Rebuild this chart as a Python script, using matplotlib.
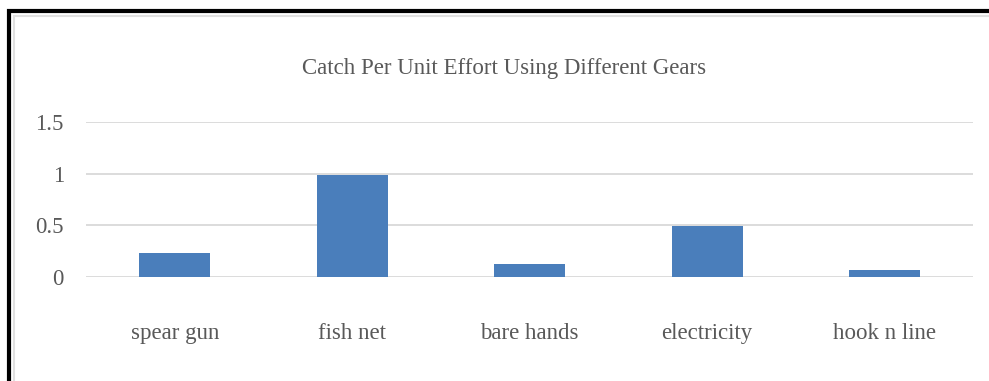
import matplotlib.pyplot as plt
from matplotlib.patches import Rectangle

categories = ["spear gun", "fish net", "bare hands", "electricity", "hook n line"]
cpue = [0.235, 0.99, 0.13, 0.49, 0.07]
yticks = [0, 0.5, 1, 1.5]
ytick_labels = ["0", "0.5", "1", "1.5"]

plt.rcParams["font.family"] = ["Liberation Serif", "DejaVu Serif"]
TXT = "#595959"

fig = plt.figure(figsize=(9.89, 3.81), dpi=100)
ax = fig.add_axes([0.087, 0.273, 0.897, 0.407])

x = range(len(categories))
ax.bar(x, cpue, width=0.4, color="#4a7ebb", zorder=3)
ax.set_xlim(-0.5, len(categories) - 0.5)
ax.set_ylim(0, 1.5)
ax.set_yticks(yticks, ytick_labels)
ax.set_xticks(list(x), categories)
ax.tick_params(length=0, colors=TXT, labelsize=16.5)
ax.tick_params(axis="x", pad=33)
ax.tick_params(axis="y", pad=16)
for lbl in ax.get_yticklabels():
    lbl.set_va("center_baseline")
ax.grid(axis="y", color="#d9d9d9", lw=1.3, zorder=0)
for s in ax.spines.values():
    s.set_visible(False)

fig.text(0.51, 0.82, "Catch Per Unit Effort Using Different Gears",
         ha="center", va="center", fontsize=16.5, color=TXT)

# black outer frame, clipped on the right and bottom
fig.add_artist(Rectangle((0.0095, -0.1), 1.2, 1.071, transform=fig.transFigure,
                         fill=False, ec="black", lw=3))
fig.add_artist(Rectangle((0.0145, -0.1), 1.2, 1.058, transform=fig.transFigure,
                         fill=False, ec="#e0e0e0", lw=1.5))

fig.savefig("out.png", dpi=100)
